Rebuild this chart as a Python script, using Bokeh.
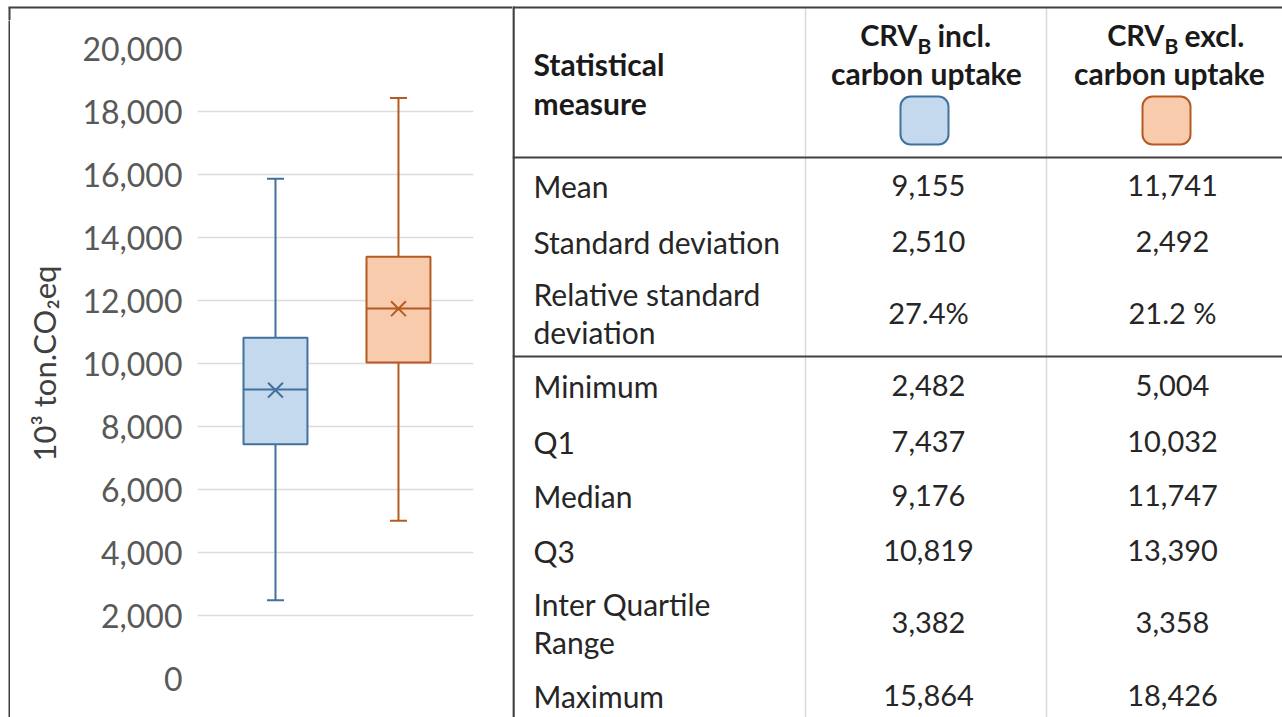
from bokeh.plotting import figure
from bokeh.layouts import row, column
from bokeh.models import ColumnDataSource, Range1d, FixedTicker, NumeralTickFormatter
from bokeh.core.properties import value
from bokeh.embed import file_html
from bokeh.resources import INLINE

# ---------------- data ----------------
series_short = ["incl.", "excl."]
series_main = "CRV"
series_sub = "B"
header_line2 = "carbon uptake"
means = [9155, 11741]
std_devs = [2510, 2492]
rel_std = ["27.4%", "21.2 %"]
minimums = [2482, 5004]
q1s = [7437, 10032]
medians = [9176, 11747]
q3s = [10819, 13390]
iqrs = [3382, 3358]
maximums = [15864, 18426]
y_ticks = [0, 2000, 4000, 6000, 8000, 10000, 12000, 14000, 16000, 18000, 20000]
row_labels = [["Mean"], ["Standard deviation"], ["Relative standard", "deviation"],
              ["Minimum"], ["Q1"], ["Median"], ["Q3"], ["Inter Quartile", "Range"], ["Maximum"]]
y_label = "10³ ton.CO₂eq"

# ---------------- styles ----------------
fill_colors = ["#C5D9EE", "#F8CBAD"]
line_colors = ["#41719C", "#B35B22"]
BORDER = "#404040"
FONT = "Lato"
BOX_W = 0.52
CAP_W = 0.138

def fmt(v):
    return f"{v:,}"

value_rows = [
    [fmt(v) for v in means],
    [fmt(v) for v in std_devs],
    rel_std,
    [fmt(v) for v in minimums],
    [fmt(v) for v in q1s],
    [fmt(v) for v in medians],
    [fmt(v) for v in q3s],
    [fmt(v) for v in iqrs],
    [fmt(v) for v in maximums],
]

TOTAL_H = 717
TOP_H = 20
ROW_H = TOTAL_H - TOP_H

# ---------------- border bands ----------------
top_band = figure(width=512, height=TOP_H, x_range=Range1d(0, 512), y_range=Range1d(TOP_H, 0),
                  x_axis_type=None, y_axis_type=None, title=None,
                  toolbar_location=None, output_backend="svg", min_border=0,
                  outline_line_color=None, frame_align=False)
top_band.segment(x0=[8], y0=[7], x1=[512], y1=[7], line_color=BORDER, line_width=2)
top_band.segment(x0=[9], y0=[7], x1=[9], y1=[TOP_H], line_color=BORDER, line_width=2)

left_band = figure(width=10, height=ROW_H, x_axis_type=None, y_axis_type=None, title=None,
                   toolbar_location=None, output_backend="svg",
                   min_border_left=8, min_border_right=0, min_border_top=0, min_border_bottom=0,
                   outline_line_color=None, background_fill_color=BORDER,
                   border_fill_color="white", frame_align=False)

# ---------------- box plot ----------------
left = figure(width=502, height=ROW_H, x_range=Range1d(-0.634, 1.61), y_range=Range1d(0, 20000),
              x_axis_type=None, title=None, toolbar_location=None, output_backend="svg",
              min_border_left=187, min_border_right=39, min_border_top=48 - TOP_H,
              min_border_bottom=ROW_H - (48 - TOP_H) - 630,
              outline_line_color=None, frame_align=False)
ax = left.yaxis[0]
ax.ticker = FixedTicker(ticks=y_ticks)
ax.formatter = NumeralTickFormatter(format="0,0")
ax.axis_line_color = None
ax.major_tick_line_color = None
ax.minor_tick_line_color = None
ax.major_tick_out = 0
ax.major_tick_in = 0
ax.major_label_standoff = 15
ax.major_label_text_font = FONT
ax.major_label_text_font_size = "32px"
ax.major_label_text_color = "#595959"
ax.axis_label = y_label
ax.axis_label_text_font = FONT
ax.axis_label_text_font_size = "31px"
ax.axis_label_text_font_style = "normal"
ax.axis_label_text_color = "#404040"
ax.axis_label_standoff = 16
left.ygrid.grid_line_color = "#DCDCDC"
left.ygrid.grid_line_width = 1.5

xs = list(range(len(means)))
src = ColumnDataSource(dict(
    x=xs, q1=q1s, q3=q3s, med=medians, mn=minimums, mx=maximums, mean=means,
    fill=fill_colors, line=line_colors,
    xl=[x - BOX_W / 2 for x in xs], xr=[x + BOX_W / 2 for x in xs],
    cl=[x - CAP_W / 2 for x in xs], cr=[x + CAP_W / 2 for x in xs],
))
left.segment(x0="x", y0="q3", x1="x", y1="mx", line_color="line", line_width=2, source=src)
left.segment(x0="x", y0="q1", x1="x", y1="mn", line_color="line", line_width=2, source=src)
left.segment(x0="cl", y0="mx", x1="cr", y1="mx", line_color="line", line_width=2, source=src)
left.segment(x0="cl", y0="mn", x1="cr", y1="mn", line_color="line", line_width=2, source=src)
left.vbar(x="x", width=BOX_W, top="q3", bottom="q1", fill_color="fill",
          line_color="line", line_width=2, source=src)
left.segment(x0="xl", y0="med", x1="xr", y1="med", line_color="line", line_width=2, source=src)
left.scatter(x="x", y="mean", marker="x", size=21, line_color="line", line_width=2, source=src)

# ---------------- table (page coordinates) ----------------
X0, X1, Y0, Y1 = 512, 1282, 0, TOTAL_H
tbl = figure(width=770, height=TOTAL_H, x_range=Range1d(X0, X1), y_range=Range1d(Y1, Y0),
             x_axis_type=None, y_axis_type=None, title=None, toolbar_location=None,
             output_backend="svg", min_border=0, outline_line_color=None, frame_align=False)

col_lines = [805, 1046]
val_centers = [928, 1172]
hdr_centers = [926, 1169]
swatch_centers = [924, 1166]
sub_x = [917, 1164]
label_x = 533
tbl.segment(x0=col_lines, y0=[7] * 2, x1=col_lines, y1=[Y1] * 2, line_color="#D9D9D9", line_width=1.5)
tbl.segment(x0=[X0, X0, X0], y0=[7, 157, 356], x1=[X1, X1, X1], y1=[7, 157, 356],
            line_color=BORDER, line_width=2)
tbl.segment(x0=[513], y0=[6], x1=[513], y1=[Y1], line_color=BORDER, line_width=2.5)

# header
HDR = dict(text_font=value(FONT), text_font_style="bold", text_color="#1A1A1A", text_baseline="middle")
tbl.text(x=[label_x, label_x], y=[63, 102], text=["Statistical", "measure"],
         text_font_size="30px", text_align="left", **HDR)
tbl.text(x=sub_x, y=[34, 34], text=[series_main] * 2, text_font_size="29px", text_align="right", **HDR)
tbl.text(x=sub_x, y=[45, 45], text=[series_sub] * 2, text_font_size="21px", text_align="left", **HDR)
tbl.text(x=[sx + 20 for sx in sub_x], y=[34, 34], text=series_short, text_font_size="30px",
         text_align="left", **HDR)
tbl.text(x=hdr_centers, y=[72, 72], text=[header_line2] * 2, text_font_size="30px",
         text_align="center", **HDR)
tbl.quad(left=[c - 24 for c in swatch_centers], right=[c + 24 for c in swatch_centers],
         top=[96, 96], bottom=[144, 144], fill_color=fill_colors, line_color=line_colors,
         line_width=2, border_radius=10)

# body
row_centers = [185, 241, 312, 385, 441, 495, 550, 622, 695]
lx, ly, lt = [], [], []
for yc, lines in zip(row_centers, row_labels):
    n = len(lines)
    for i, t in enumerate(lines):
        lx.append(label_x)
        ly.append(yc + (i - (n - 1) / 2) * 38)
        lt.append(t)
tbl.text(x=lx, y=ly, text=lt, text_font=value(FONT), text_font_size="30px",
         text_align="left", text_baseline="middle", text_color="#262626")
vx, vy, vt = [], [], []
for yc, vals in zip(row_centers, value_rows):
    for cx, t in zip(val_centers, vals):
        vx.append(cx)
        vy.append(yc)
        vt.append(t)
tbl.text(x=vx, y=vy, text=vt, text_font=value(FONT), text_font_size="29px",
         text_align="center", text_baseline="middle", text_color="#262626")

layout = row(column(top_band, row(left_band, left)), tbl)
open("out.html", "w").write(file_html(layout, INLINE))
